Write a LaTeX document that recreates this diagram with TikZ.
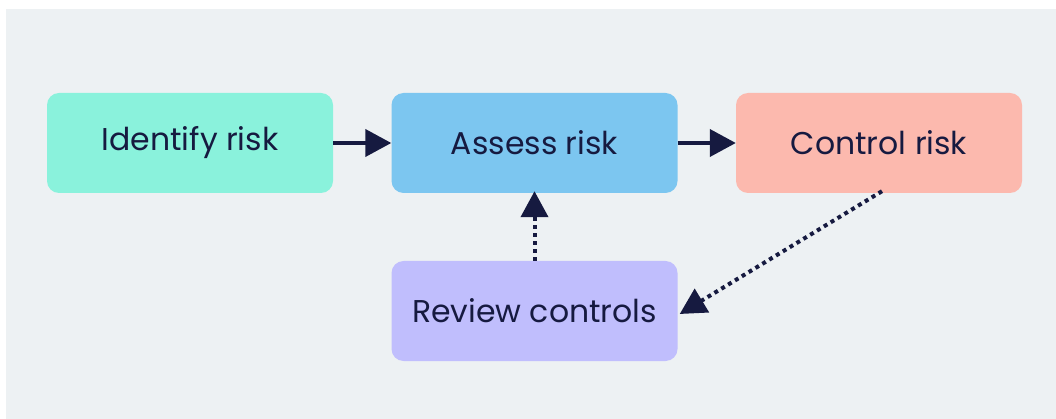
\documentclass[tikz,border=0pt]{standalone}
\usepackage{fontspec}
\setmainfont{Poppins}
\usetikzlibrary{arrows.meta}
\definecolor{bgc}{HTML}{EDF1F3}
\definecolor{ink}{HTML}{161A40}
\definecolor{mint}{HTML}{8AF2DC}
\definecolor{sky}{HTML}{7CC6F0}
\definecolor{salmon}{HTML}{FCB9AE}
\definecolor{lilac}{HTML}{C0BEFD}

\begin{document}
\begin{tikzpicture}[x=1pt,y=-1pt,
    box/.style={rounded corners=12pt, minimum width=286pt, minimum height=100pt,
      inner sep=0pt, text=ink, font=\fontsize{31.5}{36}\selectfont},
    flow/.style={ink, line width=4pt, -{Triangle[length=26pt,width=27pt]}},
    back/.style={flow, dash pattern=on 4pt off 4pt}]

            \useasboundingbox (0,0) rectangle (1056,419);
            \fill[white] (0,0) rectangle (1056,419);
            \fill[bgc] (6,9) rectangle (1056,419);

            \node[box, fill=mint] (identify) at (190,143) {Identify risk};
            \node[box, fill=sky] (assess) at (534.5,143) {Assess risk};
            \node[box, fill=salmon] (control) at (879,143) {Control risk};
            \node[box, fill=lilac] (review) at (534.5,311) {Review controls};

            \draw[flow] (identify.east) -- (assess.west);
            \draw[flow] (assess.east) -- (control.west);
            \draw[back] (review.north) -- ([yshift=2pt]assess.south);
            \draw[back] ([xshift=3pt,yshift=2pt]control.south) -- ([xshift=2pt,yshift=-3pt]review.east);

        \end{tikzpicture}
\end{document}
